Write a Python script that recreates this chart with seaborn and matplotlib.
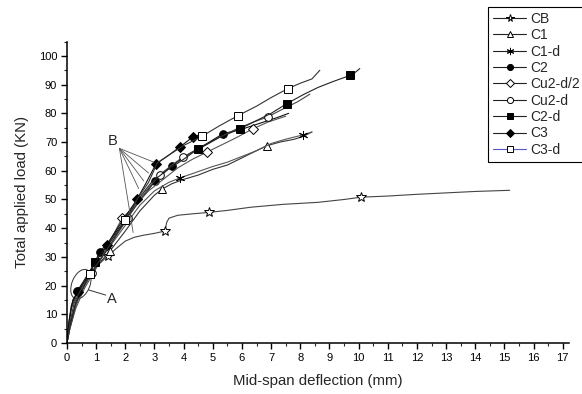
import numpy as np
import pandas as pd
import matplotlib
matplotlib.use("Agg")
import matplotlib.pyplot as plt
import seaborn as sns
from matplotlib.patches import Ellipse
from matplotlib.transforms import ScaledTranslation
from matplotlib.ticker import MultipleLocator

# ---------------- data ----------------
series_names = ["CB", "C1", "C1-d", "C2", "Cu2-d/2", "Cu2-d", "C2-d", "C3", "C3-d"]

cb_x = [0, 0.05, 0.15, 0.3, 0.5, 0.8, 1.1, 1.41, 1.7, 2.0, 2.3, 2.6, 3.0, 3.36, 3.42, 3.5, 3.8, 4.3,
        4.87, 5.5, 6.3, 7.4, 8.6, 9.5, 10.08, 11, 12, 13, 14, 15.18]
cb_y = [0, 5, 12, 16, 20, 24, 27.5, 30.4, 33, 35.5, 36.8, 37.5, 38.2, 39, 42, 43.5, 44.5, 45,
        45.5, 46.2, 47.3, 48.3, 49, 50, 50.8, 51.2, 51.8, 52.3, 52.8, 53.2]
cb_mark = [7, 13, 18, 24]

c1_x = [0, 0.1, 0.3, 0.6, 1.0, 1.47, 2.0, 2.5, 3.0, 3.26, 3.6, 4.0, 4.5, 5.0, 5.5, 6.0, 6.5, 6.85,
        7.3, 7.8, 8.1, 8.4]
c1_y = [0, 6, 14, 20, 26.5, 32, 39, 46, 51.5, 53.6, 55.5, 57, 58.5, 60.5, 62, 64.5, 67, 68.7,
        70, 71, 72, 73.5]
c1_mark = [5, 9, 17]

c1d_x = [0, 0.1, 0.3, 0.6, 1.0, 1.5, 2.0, 2.5, 3.0, 3.5, 3.87, 4.3, 5.0, 5.5, 6.0, 6.5, 7.0,
         7.5, 8.09, 8.4]
c1d_y = [0, 5, 13, 20, 27, 34, 41, 48, 53, 56, 57.5, 59, 61.5, 63, 65, 67, 69.5, 71, 72.5, 73.5]
c1d_mark = [10, 18]

c2_x = [0, 0.05, 0.15, 0.35, 0.6, 0.9, 1.13, 1.5, 2.0, 2.5, 3.02, 3.6, 4.2, 4.8, 5.35, 6.0, 6.6,
        7.2, 7.6]
c2_y = [0, 6, 13, 18, 22, 27, 31.8, 36, 43, 49.5, 56.4, 61.8, 66, 69.5, 72.9, 74.5, 76.5, 78.5, 80]
c2_mark = [3, 6, 10, 11, 14]

cu2d2_x = [0, 0.1, 0.3, 0.6, 1.0, 1.4, 1.89, 2.3, 2.8, 3.3, 3.8, 4.3, 4.8, 5.3, 5.8, 6.37, 6.9, 7.5]
cu2d2_y = [0, 5, 12, 19, 26, 34, 43.5, 47.5, 53, 57, 61, 64, 66.5, 69, 71.5, 74.6, 77, 79]
cu2d2_mark = [6, 12, 15]

cu2d_x = [0, 0.1, 0.3, 0.55, 0.85, 1.2, 1.6, 2.1, 2.5, 2.8, 3.19, 3.6, 3.98, 4.6, 5.2, 5.8, 6.4,
          6.89, 7.4, 7.9, 8.33]
cu2d_y = [0, 5, 13, 21, 24.5, 30, 36, 43.7, 50, 54, 58.7, 62, 64.8, 68, 71.5, 74.5, 77, 78.8,
          81.5, 84, 86.7]
cu2d_mark = [4, 7, 10, 12, 17]

c2d_x = [0, 0.1, 0.3, 0.6, 0.96, 1.4, 1.9, 2.4, 2.9, 3.4, 4.0, 4.49, 5.2, 5.93, 6.5, 7.0, 7.54,
         8.1, 8.6, 9.1, 9.7, 9.85, 10.04]
c2d_y = [0, 6, 14, 20, 28.3, 34, 41, 49.5, 56, 60, 64, 67.6, 71.5, 74.6, 77.5, 80, 83.4,
         86.5, 89, 91, 93.2, 94, 95.6]
c2d_mark = [4, 11, 13, 16, 20]

c3_x = [0, 0.08, 0.2, 0.38, 0.7, 1.0, 1.37, 1.8, 2.4, 2.7, 3.05, 3.5, 3.87, 4.32, 4.7]
c3_y = [0, 8, 15, 17.8, 23, 28.5, 34.3, 41, 50, 55.5, 62.3, 65.5, 68.3, 71.8, 73]
c3_mark = [3, 6, 8, 10, 12, 13]

c3d_x = [0, 0.1, 0.25, 0.5, 0.8, 1.2, 1.6, 2.0, 2.4, 2.8, 3.1, 3.5, 4.0, 4.63, 5.2, 5.86, 6.5,
         7.0, 7.57, 8.0, 8.4, 8.67]
c3d_y = [0, 7, 14, 19, 24, 30, 36, 43, 50, 56, 62.8, 65.5, 68.8, 72, 75.5, 79.2, 82.5, 85.5,
         88.6, 90.5, 92, 95]
c3d_mark = [4, 7, 13, 15, 18]

# annotation targets
b_text = (1.57, 70.5)
b_origin = (1.8, 67.8)
b_targets_x = [2.98, 2.8, 2.63, 2.46, 2.27]
b_targets_y = [63.0, 59.2, 56.5, 53.8, 38.5]
a_text = (1.38, 15.5)
a_line_end = (0.74, 18.5)
a_center = (0.48, 20.5)

x_ticks = list(range(0, 18))
y_ticks = list(range(0, 101, 10))

# ---------------- plot ----------------
sns.set_theme(style="ticks")
plt.rcParams["font.family"] = ["Liberation Sans", "DejaVu Sans"]

fig = plt.figure(figsize=(5.82, 3.94), dpi=100)
ax = fig.add_axes([0.115, 0.1294, 0.862, 0.765])

styles = {
    "CB":      dict(marker="*", mfc="white", ms=7, color="#444444"),
    "C1":      dict(marker="^", mfc="white", ms=5.5, color="#333333"),
    "C1-d":    dict(marker=(6, 2, 0), mfc="none", ms=6.5, color="#555555"),
    "C2":      dict(marker="o", mfc="black", ms=5.5, color="#111111"),
    "Cu2-d/2": dict(marker="D", mfc="white", ms=5, color="#555555"),
    "Cu2-d":   dict(marker="o", mfc="white", ms=5.5, color="#444444"),
    "C2-d":    dict(marker="s", mfc="black", ms=5.3, color="#222222"),
    "C3":      dict(marker="D", mfc="black", ms=5, color="#111111"),
    "C3-d":    dict(marker="s", mfc="white", ms=5.5, color="#333333"),
}
data = {
    "CB": (cb_x, cb_y, cb_mark),
    "C1": (c1_x, c1_y, c1_mark),
    "C1-d": (c1d_x, c1d_y, c1d_mark),
    "C2": (c2_x, c2_y, c2_mark),
    "Cu2-d/2": (cu2d2_x, cu2d2_y, cu2d2_mark),
    "Cu2-d": (cu2d_x, cu2d_y, cu2d_mark),
    "C2-d": (c2d_x, c2d_y, c2d_mark),
    "C3": (c3_x, c3_y, c3_mark),
    "C3-d": (c3d_x, c3d_y, c3d_mark),
}

handles = []
for name in series_names:
    xs, ys, mk = data[name]
    st = styles[name]
    df = pd.DataFrame({"x": xs, "y": ys})
    sns.lineplot(data=df, x="x", y="y", ax=ax, estimator=None, sort=False,
                 color=st["color"], linewidth=0.8, marker=st["marker"], markevery=mk,
                 markersize=st["ms"], markerfacecolor=st["mfc"], markeredgecolor="black",
                 markeredgewidth=0.7, label=name, legend=False)
    h = matplotlib.lines.Line2D([], [], color=("#5555cc" if name == "C3-d" else "#222222"),
                                linewidth=0.8, marker=st["marker"], markersize=st["ms"] * 0.8,
                                markerfacecolor=st["mfc"], markeredgecolor="black",
                                markeredgewidth=0.7)
    handles.append(h)

# B annotation
ax.text(b_text[0], b_text[1], "B", fontsize=10.5, ha="center", va="center")
for tx, ty in zip(b_targets_x, b_targets_y):
    ax.plot([b_origin[0], tx], [b_origin[1], ty], color="#555555", linewidth=0.6)

# A annotation
ax.text(a_text[0], a_text[1], "A", fontsize=10.5, ha="left", va="center")
ax.plot([a_text[0] - 0.05, a_line_end[0]], [a_text[1] + 1.2, a_line_end[1]], color="#333333", linewidth=0.7)
ell = Ellipse((0, 0), width=0.18, height=0.31, angle=-22, fill=False, edgecolor="#333333", linewidth=0.7,
              transform=fig.dpi_scale_trans + ScaledTranslation(a_center[0], a_center[1], ax.transData))
ax.add_patch(ell)

ax.set_xlim(0, 17.2)
ax.set_ylim(0, 105)
ax.set_xticks(x_ticks)
ax.set_yticks(y_ticks)
ax.xaxis.set_minor_locator(MultipleLocator(0.5))
ax.yaxis.set_minor_locator(MultipleLocator(5))
ax.tick_params(axis="both", which="major", direction="out", length=4, width=1, labelsize=8, pad=3,
               colors="black")
ax.tick_params(axis="both", which="minor", direction="out", length=2, width=0.8)
for s in ["top", "right"]:
    ax.spines[s].set_visible(False)
for s in ["left", "bottom"]:
    ax.spines[s].set_linewidth(1.1)
    ax.spines[s].set_color("black")

ax.set_xlabel("Mid-span deflection (mm)", fontsize=10.8, labelpad=8)
ax.set_ylabel("Total applied load (KN)", fontsize=10.8, labelpad=7)

leg = fig.legend(handles, series_names, loc="upper left", bbox_to_anchor=(488 / 582, 1 - 7 / 394),
                 frameon=True, fancybox=False, edgecolor="black", framealpha=1, fontsize=10,
                 handlelength=2.4, handletextpad=0.3, labelspacing=0.17, borderpad=0.35,
                 borderaxespad=0)
leg.get_frame().set_linewidth(0.8)

fig.savefig("out.png", dpi=100)
